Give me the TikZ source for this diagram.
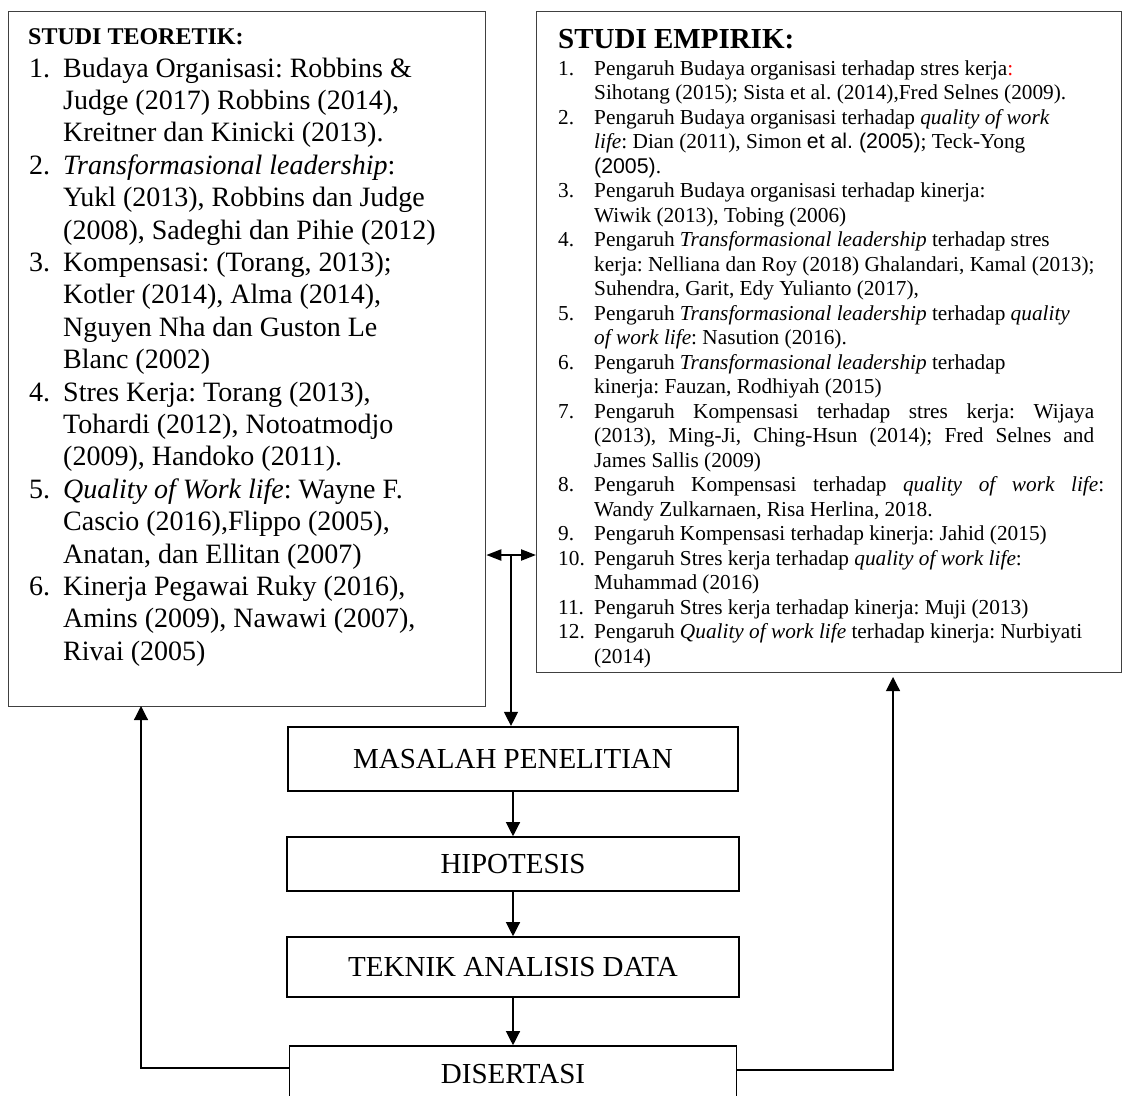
\documentclass[tikz,border=0pt]{standalone}
\usepackage{fontspec}
\setmainfont{Liberation Serif}
\newfontfamily\arialfont{Liberation Sans}
\usetikzlibrary{arrows.meta}
\frenchspacing

\begin{document}
\begin{tikzpicture}[x=1pt, y=-1pt,
    kotak/.style={draw=black!75, line width=1.3pt, inner sep=0pt, anchor=north west},
    langkah/.style={draw, line width=1.6pt, inner sep=0pt, font=\fontsize{29}{34}\selectfont},
    daftar/.style={anchor=base west, inner sep=0pt},
    panah/.style={-{Triangle[length=14pt,width=14pt]}, line width=1.2pt},
    panahdua/.style={{Triangle[length=15pt,width=11pt]}-{Triangle[length=15pt,width=11pt]}, line width=2.2pt}]
    \useasboundingbox (0,0) rectangle (1123,1095);
    \clip (0,0) rectangle (1123,1095);

    % Studi teoretik (left)
    \node[kotak, minimum width=477pt, minimum height=695pt] (teori) at (8,11) {};
    \node[daftar, font=\bfseries\fontsize{24}{28}\selectfont] (teorijudul) at (28,44) {STUDI TEORETIK:};
    \node[daftar, font=\fontsize{28}{32.4}\selectfont] (teoridaftar) at (29,77) {%
      \begin{tabular}[t]{@{}p{34pt}@{}l@{}}
      1.&Budaya Organisasi: Robbins \&\\
        &Judge (2017) Robbins (2014),\\
        &Kreitner dan Kinicki (2013).\\
      2.&\textit{Transformasional leadership}:\\
        &Yukl (2013), Robbins dan Judge\\
        &(2008), Sadeghi dan Pihie (2012)\\
      3.&Kompensasi: (Torang, 2013);\\
        &Kotler (2014), Alma (2014),\\
        &Nguyen Nha dan Guston Le\\
        &Blanc (2002)\\
      4.&Stres Kerja: Torang (2013),\\
        &Tohardi (2012), Notoatmodjo\\
        &(2009), Handoko (2011).\\
      5.&\textit{Quality of Work life}: Wayne F.\\
        &Cascio (2016),Flippo (2005),\\
        &Anatan, dan Ellitan (2007)\\
      6.&Kinerja Pegawai Ruky (2016),\\
        &Amins (2009), Nawawi (2007),\\
        &Rivai (2005)
      \end{tabular}};

    % Studi empirik (right)
    \node[kotak, minimum width=585pt, minimum height=661pt] (empiri) at (536,11) {};
    \node[daftar, font=\bfseries\fontsize{29}{33}\selectfont] (empirijudul) at (558,48) {STUDI EMPIRIK:};
    \node[daftar, font=\fontsize{21.3}{24.5}\selectfont] (empiridaftar) at (558,75) {%
      \begin{tabular}[t]{@{}p{36pt}@{}l@{}}
      1.&Pengaruh Budaya organisasi terhadap stres kerja{\color{red}:}\\
        &Sihotang (2015); Sista et al. (2014),Fred Selnes (2009).\\
      2.&Pengaruh Budaya organisasi terhadap \textit{quality of work}\\
        &\textit{life}: Dian (2011), Simon {\arialfont et al. (2005)}; Teck-Yong\\
        &{\arialfont (2005)}.\\
      3.&Pengaruh Budaya organisasi terhadap kinerja:\\
        &Wiwik (2013), Tobing (2006)\\
      4.&Pengaruh \textit{Transformasional leadership} terhadap stres\\
        &kerja: Nelliana dan Roy (2018) Ghalandari, Kamal (2013);\\
        &Suhendra, Garit, Edy Yulianto (2017),\\
      5.&Pengaruh \textit{Transformasional leadership} terhadap \textit{quality}\\
        &\textit{of work life}: Nasution (2016).\\
      6.&Pengaruh \textit{Transformasional leadership} terhadap\\
        &kinerja: Fauzan, Rodhiyah (2015)\\
      7.&\makebox[500pt][s]{Pengaruh Kompensasi terhadap stres kerja: Wijaya}\\
        &\makebox[500pt][s]{(2013), Ming-Ji, Ching-Hsun (2014); Fred Selnes and}\\
        &James Sallis (2009)\\
      8.&\makebox[510pt][s]{Pengaruh Kompensasi terhadap \textit{quality of work life}:}\\
        &Wandy Zulkarnaen, Risa Herlina, 2018.\\
      9.&Pengaruh Kompensasi terhadap kinerja: Jahid (2015)\\
      10.&Pengaruh Stres kerja terhadap \textit{quality of work life}:\\
        &Muhammad (2016)\\
      11.&Pengaruh Stres kerja terhadap kinerja: Muji (2013)\\
      12.&Pengaruh \textit{Quality of work life} terhadap kinerja: Nurbiyati\\
        &(2014)
      \end{tabular}};

    % Research steps
    \node[langkah, line width=2.2pt, minimum width=450pt, minimum height=64pt] (masalah) at (513,759) {MASALAH PENELITIAN};
    \node[langkah, minimum width=452pt, minimum height=54pt] (hipotesis) at (513,864) {HIPOTESIS};
    \node[langkah, minimum width=452pt, minimum height=60pt] (teknik) at (513,967) {TEKNIK ANALISIS DATA};
    \node[langkah, minimum width=447pt, minimum height=56pt] (disertasi) at (513,1074) {DISERTASI};

    % Link between the two studies
    \coordinate (tengah) at (511,555);
    \draw[panahdua] (teori.east |- tengah) -- (empiri.west |- tengah);
    \draw[panah] (tengah) -- (tengah |- masalah.north);

    % Flow down
    \draw[panah] (masalah.south) -- (hipotesis.north);
    \draw[panah] (hipotesis.south) -- (teknik.north);
    \draw[panah] (teknik.south) -- (disertasi.north);

    % Feedback to the studies
    \coordinate (kiri) at (141,706);
    \coordinate (kanan) at (893,677);
    \draw[panah] ([yshift=6pt]disertasi.west) -| (kiri);
    \draw[panah] ([yshift=4pt]disertasi.east) -| (kanan);

\end{tikzpicture}
\end{document}
